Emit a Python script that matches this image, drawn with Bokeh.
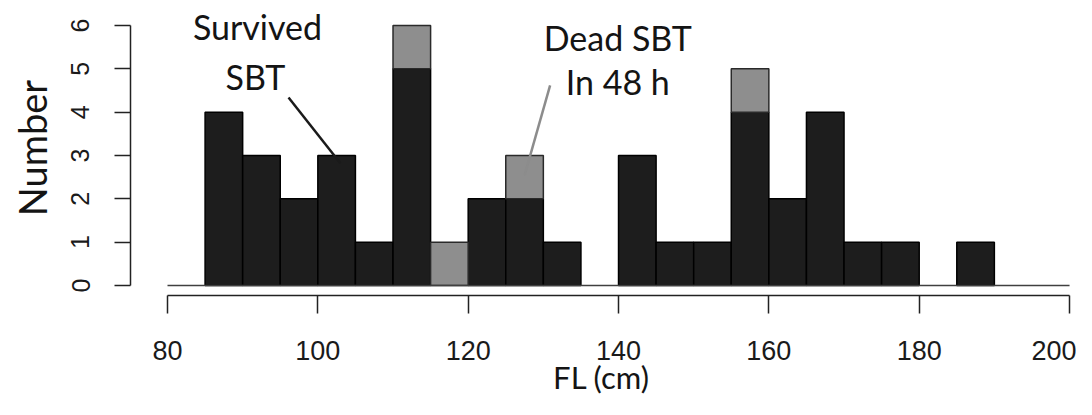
from bokeh.plotting import figure
from bokeh.models import Range1d, FixedTicker, Label
from bokeh.embed import file_html
from bokeh.resources import INLINE

# ---- data ----
bin_left = [85, 90, 95, 100, 105, 110, 115, 120, 125, 130, 135,
            140, 145, 150, 155, 160, 165, 170, 175, 180, 185]
bin_width = 5
survived = [4, 3, 2, 3, 1, 5, 0, 2, 2, 1, 0, 3, 1, 1, 4, 2, 4, 1, 1, 0, 1]
dead = [0, 0, 0, 0, 0, 1, 1, 0, 1, 0, 0, 0, 0, 0, 1, 0, 0, 0, 0, 0, 0]
x_ticks = [80, 100, 120, 140, 160, 180, 200]
y_ticks = [0, 1, 2, 3, 4, 5, 6]
x_label = "FL (cm)"
y_label = "Number"
ann_survived = ["Survived", "SBT"]
ann_dead = ["Dead SBT", "In 48 h"]

# ---- figure ----
px_x = 7.517
px_y = 43.33
W, H = 1076, 399
mb_left, mb_right, mb_top, mb_bottom = 130, 4, 0, 104
fw = W - mb_left - mb_right
fh = H - mb_top - mb_bottom
x0 = 80 - 37 / px_x
y0 = -10 / px_y

p = figure(width=W, height=H, output_backend="svg", toolbar_location=None,
           x_range=Range1d(x0, x0 + fw / px_x), y_range=Range1d(y0, y0 + fh / px_y),
           min_border_left=mb_left, min_border_right=mb_right,
           min_border_top=mb_top, min_border_bottom=mb_bottom)
p.outline_line_color = None
p.grid.visible = False
p.background_fill_color = "white"
p.border_fill_color = "white"

s_l, s_r, s_t = [], [], []
d_l, d_r, d_b, d_t = [], [], [], []
for l, s, d in zip(bin_left, survived, dead):
    if s > 0:
        s_l.append(l); s_r.append(l + bin_width); s_t.append(s)
    if d > 0:
        d_l.append(l); d_r.append(l + bin_width); d_b.append(s); d_t.append(s + d)

p.quad(left=s_l, right=s_r, bottom=0, top=s_t, fill_color="#1d1d1d",
       line_color="#000000", line_width=1.5)
p.quad(left=d_l, right=d_r, bottom=d_b, top=d_t, fill_color="#8e8e8e",
       line_color="#2a2a2a", line_width=1.5)

# baseline
p.line(x=[x_ticks[0], x_ticks[-1]], y=[0, 0], line_color="#404040", line_width=1.5)

# annotation lines
p.line(x=[96.1, 103.0], y=[4.34, 2.82], line_color="#1a1a1a", line_width=2.5)
p.line(x=[130.9, 127.5], y=[4.62, 2.54], line_color="#8c8c8c", line_width=2.5)

# annotation texts
font = "Lato"
for txt, x, y in zip(ann_survived + ann_dead,
                     [91.97, 91.7, 139.9, 139.9],
                     [5.98, 4.83, 5.73, 4.7]):
    p.add_layout(Label(x=x, y=y, text=txt, text_font=font, text_font_size="34px",
                       text_align="center", text_baseline="middle", text_color="#141414"))

# axes
xa = p.xaxis[0]
xa.bounds = (x_ticks[0], x_ticks[-1])
xa.ticker = FixedTicker(ticks=x_ticks)
xa.minor_tick_line_color = None
xa.major_tick_in = 0
xa.major_tick_out = 18
xa.axis_line_width = 1.5
xa.major_tick_line_width = 1.5
xa.axis_line_color = "#222222"
xa.major_tick_line_color = "#222222"
xa.major_label_text_font = "Liberation Sans"
xa.major_label_text_font_size = "27px"
xa.major_label_text_color = "#1a1a1a"
xa.major_label_standoff = 27
xa.axis_label = x_label
xa.axis_label_text_font = font
xa.axis_label_text_font_size = "31px"
xa.axis_label_text_font_style = "normal"
xa.axis_label_text_color = "#141414"
xa.axis_label_standoff = -5

ya = p.yaxis[0]
ya.bounds = (y_ticks[0], y_ticks[-1])
ya.ticker = FixedTicker(ticks=y_ticks)
ya.minor_tick_line_color = None
ya.major_tick_in = 0
ya.major_tick_out = 16
ya.axis_line_width = 1.5
ya.major_tick_line_width = 1.5
ya.axis_line_color = "#222222"
ya.major_tick_line_color = "#222222"
ya.major_label_orientation = "parallel"
ya.major_label_text_font = "Liberation Sans"
ya.major_label_text_font_size = "25px"
ya.major_label_text_color = "#1a1a1a"
ya.major_label_standoff = 25
ya.axis_label = y_label
ya.axis_label_text_font = font
ya.axis_label_text_font_size = "38px"
ya.axis_label_text_font_style = "normal"
ya.axis_label_text_color = "#141414"
ya.axis_label_standoff = 14

open("out.html", "w").write(file_html(p, INLINE))
